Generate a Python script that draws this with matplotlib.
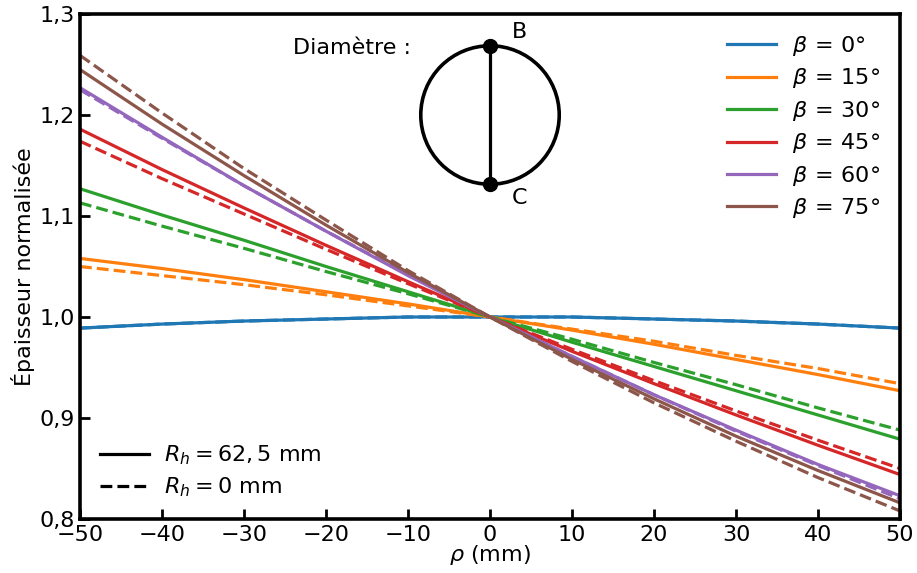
import matplotlib
matplotlib.use("Agg")
import matplotlib.pyplot as plt
from matplotlib.ticker import FuncFormatter, MultipleLocator
from matplotlib.lines import Line2D
from matplotlib.patches import Circle

rho = [-50, -40, -30, -20, -10, 0, 10, 20, 30, 40, 50]
betas = [0, 15, 30, 45, 60, 75]
colors = ["#1f77b4", "#ff7f0e", "#2ca02c", "#d62728", "#9467bd", "#8c564b"]

# Rh = 62.5 mm (solid)
solid = {
    0:  [0.989, 0.993, 0.996, 0.998, 1.000, 1.0, 1.000, 0.998, 0.996, 0.993, 0.989],
    15: [1.058, 1.048, 1.037, 1.025, 1.013, 1.0, 0.987, 0.973, 0.958, 0.943, 0.927],
    30: [1.127, 1.101, 1.076, 1.050, 1.025, 1.0, 0.975, 0.951, 0.927, 0.903, 0.879],
    45: [1.186, 1.146, 1.108, 1.071, 1.035, 1.0, 0.966, 0.934, 0.903, 0.873, 0.844],
    60: [1.227, 1.178, 1.130, 1.085, 1.041, 1.0, 0.961, 0.923, 0.888, 0.854, 0.823],
    75: [1.245, 1.191, 1.140, 1.091, 1.044, 1.0, 0.958, 0.919, 0.882, 0.848, 0.816],
}
# Rh = 0 mm (dashed)
dashed = {
    0:  [0.989, 0.993, 0.996, 0.998, 1.000, 1.0, 1.000, 0.998, 0.996, 0.993, 0.989],
    15: [1.050, 1.041, 1.032, 1.022, 1.011, 1.0, 0.988, 0.976, 0.962, 0.949, 0.934],
    30: [1.113, 1.090, 1.068, 1.045, 1.023, 1.0, 0.978, 0.955, 0.933, 0.910, 0.888],
    45: [1.174, 1.137, 1.102, 1.067, 1.033, 1.0, 0.968, 0.937, 0.907, 0.878, 0.850],
    60: [1.225, 1.177, 1.130, 1.085, 1.042, 1.0, 0.961, 0.923, 0.887, 0.853, 0.820],
    75: [1.259, 1.202, 1.147, 1.096, 1.046, 1.0, 0.956, 0.915, 0.877, 0.841, 0.808],
}

FS = 16
plt.rcParams['font.family'] = ['DejaVu Sans']
plt.rcParams['mathtext.fontset'] = 'dejavusans'

fig = plt.figure(figsize=(9.17, 5.73), dpi=100)
ax = fig.add_axes([80/917, 54/573, 820/917, 505/573])

lw = 2.3
handles = []
for b, c in zip(betas, colors):
    h, = ax.plot(rho, solid[b], color=c, lw=lw, ls='-')
    ax.plot(rho, dashed[b], color=c, lw=lw, ls='--')
    handles.append(h)

ax.set_xlim(-50, 50)
ax.set_ylim(0.8, 1.3)
ax.xaxis.set_major_locator(MultipleLocator(10))
ax.yaxis.set_major_locator(MultipleLocator(0.1))
ax.yaxis.set_major_formatter(FuncFormatter(lambda v, p: f"{v:.1f}".replace('.', ',')))
for s in ax.spines.values():
    s.set_linewidth(2.6)
ax.tick_params(direction='in', length=7, width=2, labelsize=FS, pad=4)
ax.set_xlabel(r"$\rho$ (mm)", fontsize=FS, labelpad=-1)
ax.set_ylabel("Épaisseur normalisée", fontsize=FS, labelpad=3)

leg1 = ax.legend(handles, [rf"$\beta\,=\,{b}°$" for b in betas], loc='upper right',
                 frameon=False, fontsize=FS, handlelength=2.2, labelspacing=0.38,
                 handletextpad=0.7, bbox_to_anchor=(1.0, 1.0))
ax.add_artist(leg1)
h_s = Line2D([], [], color='black', lw=lw, ls='-')
h_d = Line2D([], [], color='black', lw=lw, ls='--')
ax.legend([h_s, h_d], [r"$R_h = 62,5$ mm", r"$R_h = 0$ mm"], loc='lower left',
          frameon=False, fontsize=FS, handlelength=2.2, labelspacing=0.38,
          handletextpad=0.7)

# Inset diagram
ins = fig.add_axes([400/917, (573-205)/573, 180/917, 180/573])
ins.set_xlim(-1.3, 1.3)
ins.set_ylim(-1.3, 1.3)
ins.set_aspect('equal')
ins.axis('off')
ins.add_patch(Circle((0, 0), 1.0, fill=False, lw=2.6, color='black'))
ins.plot([0, 0], [1, -1], color='black', lw=2.3)
ins.plot([0, 0], [1, -1], 'o', color='black', ms=10)
ins.text(0.32, 1.2, "B", fontsize=FS, ha='left', va='center')
ins.text(0.32, -1.2, "C", fontsize=FS, ha='left', va='center')
ins.text(-1.14, 0.97, "Diamètre :", fontsize=FS, ha='right', va='center', clip_on=False)

fig.savefig("out.png", dpi=100)
